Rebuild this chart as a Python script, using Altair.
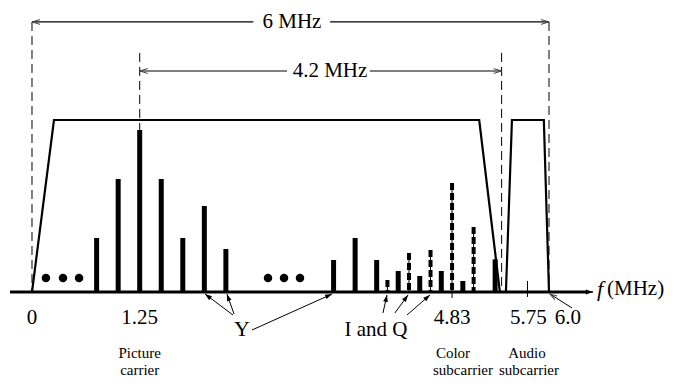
import math
import altair as alt
import pandas as pd

# ---------------- data (frequency in MHz, amplitude relative to passband = 1) -------------
X_DOMAIN = [-0.2785, 7.381]
Y_DOMAIN = [-0.5291, 1.6512]
W, H = 660, 375

# video passband envelope and audio passband
video_f = [0.0, 0.255, 5.19, 5.43]
video_a = [0.0, 1.0, 1.0, 0.0]
audio_f = [5.50, 5.57, 5.94, 6.0]
audio_a = [0.0, 1.0, 1.0, 0.0]

# luminance (Y) spectral lines
lum_f = [0.75, 1.0, 1.25, 1.5, 1.75, 2.0, 2.25, 3.5, 3.75, 4.0, 4.25, 4.5, 4.75, 5.0, 5.375]
lum_h = [0.314, 0.657, 0.942, 0.657, 0.314, 0.5, 0.25, 0.186, 0.314, 0.186, 0.122, 0.093, 0.122, 0.064, 0.19]

# chrominance (I and Q) spectral lines
chr_f = [4.125, 4.375, 4.625, 4.875, 5.125]
chr_h = [0.07, 0.227, 0.244, 0.634, 0.378]

# ellipsis dots
dot_f = [0.162, 0.36, 0.546, 2.739, 2.925, 3.11]
dot_a = [0.081, 0.081, 0.081, 0.081, 0.081, 0.081]

# dashed guide lines
guide_f = [0.0, 1.25, 5.45, 6.0]
guide_top = [1.57, 1.39, 1.39, 1.57]
guide_bot = [0.0, 0.942, 0.0, 0.0]

# dimension lines (6 MHz, 4.2 MHz)
dim_x1 = [0.0, 3.46, 1.25, 3.92]
dim_x2 = [2.57, 6.0, 2.96, 5.45]
dim_y = [1.57, 1.57, 1.285, 1.285]
dimhead_f = [0.0, 6.0, 1.25, 5.45]
dimhead_a = [1.57, 1.57, 1.285, 1.285]
dimhead_dir = [180, 0, 180, 0]

# small tick marks on the frequency axis
tick_f = [4.875, 5.75]
tick_top = [0.0, 0.064]
tick_bot = [-0.035, -0.029]

# frequency axis
axis_f = [-0.255, 6.43]
axis_tip = 6.51

# pointer arrows (Y, I and Q, 6.0)
ptr_x1 = [2.333, 2.345, 2.553, 4.073, 4.212, 4.352, 6.267]
ptr_y1 = [-0.134, -0.128, -0.221, -0.122, -0.122, -0.134, -0.093]
ptr_x2 = [2.008, 2.262, 3.482, 4.12, 4.364, 4.619, 6.012]
ptr_y2 = [-0.012, -0.012, -0.012, -0.017, -0.017, -0.017, -0.012]
ptr_kind = ["filled"] * 6 + ["open"]

# labels
big_text = ["6 MHz", "4.2 MHz", "0", "1.25", "4.83", "5.75", "6.0", "I and Q"]
big_x = [3.017, 3.458, 0.0, 1.25, 4.875, 5.76, 6.22, 3.992]
big_y = [1.57, 1.285, -0.151, -0.151, -0.151, -0.151, -0.151, -0.221]
y_text = ["Y"]
y_x = [2.437]
y_y = [-0.215]
small_text = ["Picture", "carrier", "Color", "subcarrier", "Audio", "subcarrier"]
small_x = [1.25, 1.25, 4.886, 5.002, 5.745, 5.768]
small_y = [-0.352, -0.4555, -0.352, -0.4555, -0.352, -0.4555]
unit_f_x = [6.557]
unit_rest_x = [6.673]
unit_y = [0.02]

# ---------------- chart -------------
FONT = "Liberation Serif"
PX_X = W / (X_DOMAIN[1] - X_DOMAIN[0])
PX_Y = H / (Y_DOMAIN[1] - Y_DOMAIN[0])

xs = alt.Scale(domain=X_DOMAIN, nice=False, zero=False)
ys = alt.Scale(domain=Y_DOMAIN, nice=False, zero=False)
X = lambda f="x": alt.X(f"{f}:Q", scale=xs, axis=None)
Y = lambda f="y": alt.Y(f"{f}:Q", scale=ys, axis=None)

FILLED_HEAD = "M0,0L-1,-0.34L-1,0.34Z"
OPEN_HEAD = "M-1,-0.3L0,0L-1,0.3"

layers = []

# passbands
env = pd.DataFrame({
    "x": video_f + audio_f,
    "y": video_a + audio_a,
    "band": ["video"] * 4 + ["audio"] * 4,
    "i": list(range(4)) * 2,
})
layers.append(alt.Chart(env).mark_line(color="black", strokeWidth=2.2, strokeJoin="miter").encode(
    x=X(), y=Y(), detail="band:N", order="i:Q"))

# dashed guides
g = pd.DataFrame({"x": guide_f, "y": guide_top, "y2": guide_bot})
layers.append(alt.Chart(g).mark_rule(color="black", strokeWidth=1, strokeDash=[9, 5]).encode(
    x=X(), y=Y(), y2="y2:Q"))

# dimension lines
d = pd.DataFrame({"x": dim_x1, "x2": dim_x2, "y": dim_y})
layers.append(alt.Chart(d).mark_rule(color="black", strokeWidth=1.2).encode(x=X(), x2="x2:Q", y=Y()))
dh = pd.DataFrame({"x": dimhead_f, "y": dimhead_a, "ang": dimhead_dir})
layers.append(alt.Chart(dh).mark_point(shape=OPEN_HEAD, size=256, filled=False, color="#444",
                                       strokeWidth=1, opacity=1).encode(
    x=X(), y=Y(), angle=alt.Angle("ang:Q", scale=None)))

# luminance bars
lb = pd.DataFrame({"x": lum_f, "y": [0.0] * len(lum_f), "y2": lum_h})
layers.append(alt.Chart(lb).mark_rule(color="black", strokeWidth=5).encode(x=X(), y=Y(), y2="y2:Q"))

# chrominance bars: thin core + thick dashes
cb = pd.DataFrame({"x": chr_f, "y": [0.0] * len(chr_f), "y2": chr_h})
layers.append(alt.Chart(cb).mark_rule(color="black", strokeWidth=1).encode(x=X(), y=Y(), y2="y2:Q"))
layers.append(alt.Chart(cb).mark_rule(color="black", strokeWidth=4, strokeDash=[7, 3]).encode(
    x=X(), y=Y("y2"), y2="y:Q"))

# ticks
tk = pd.DataFrame({"x": tick_f, "y": tick_top, "y2": tick_bot})
layers.append(alt.Chart(tk).mark_rule(color="black", strokeWidth=1).encode(x=X(), y=Y(), y2="y2:Q"))

# axis
ax = pd.DataFrame({"x": [axis_f[0]], "x2": [axis_f[1]], "y": [0.0]})
layers.append(alt.Chart(ax).mark_rule(color="black", strokeWidth=3).encode(x=X(), x2="x2:Q", y=Y()))
ax2 = pd.DataFrame({"x": [axis_f[1]], "x2": [axis_tip], "y": [0.0]})
layers.append(alt.Chart(ax2).mark_rule(color="black", strokeWidth=1.5).encode(x=X(), x2="x2:Q", y=Y()))
axh = pd.DataFrame({"x": [axis_tip], "y": [0.0]})
layers.append(alt.Chart(axh).mark_point(shape=FILLED_HEAD, size=200, filled=True, color="black",
                                        opacity=1).encode(x=X(), y=Y()))

# dots
dt = pd.DataFrame({"x": dot_f, "y": dot_a})
layers.append(alt.Chart(dt).mark_point(shape="circle", size=72, filled=True, color="black",
                                       opacity=1).encode(x=X(), y=Y()))

# pointer arrows
angs = []
for a, b, c, e in zip(ptr_x1, ptr_y1, ptr_x2, ptr_y2):
    dx = (c - a) * PX_X
    dy = -(e - b) * PX_Y
    angs.append(math.degrees(math.atan2(dy, dx)) % 360)
pa = pd.DataFrame({"x": ptr_x1, "y": ptr_y1, "x2": ptr_x2, "y2": ptr_y2, "ang": angs, "kind": ptr_kind})
layers.append(alt.Chart(pa).mark_rule(color="black", strokeWidth=1).encode(
    x=X(), y=Y(), x2="x2:Q", y2="y2:Q"))
layers.append(alt.Chart(pa[pa.kind == "filled"]).mark_point(
    shape=FILLED_HEAD, size=196, filled=True, color="black", opacity=1).encode(
    x=X("x2"), y=Y("y2"), angle=alt.Angle("ang:Q", scale=None)))
layers.append(alt.Chart(pa[pa.kind == "open"]).mark_point(
    shape=OPEN_HEAD, size=196, filled=False, color="#444", strokeWidth=1, opacity=1).encode(
    x=X("x2"), y=Y("y2"), angle=alt.Angle("ang:Q", scale=None)))

# text
bt = pd.DataFrame({"t": big_text, "x": big_x, "y": big_y})
layers.append(alt.Chart(bt).mark_text(font=FONT, fontSize=21, color="black", align="center",
                                      baseline="middle").encode(x=X(), y=Y(), text="t:N"))
yt = pd.DataFrame({"t": y_text, "x": y_x, "y": y_y})
layers.append(alt.Chart(yt).mark_text(font=FONT, fontSize=22, color="black", align="center",
                                      baseline="middle").encode(x=X(), y=Y(), text="t:N"))
st = pd.DataFrame({"t": small_text, "x": small_x, "y": small_y})
layers.append(alt.Chart(st).mark_text(font=FONT, fontSize=15, color="black", align="center",
                                      baseline="middle").encode(x=X(), y=Y(), text="t:N"))
uf = pd.DataFrame({"t": ["f"], "x": unit_f_x, "y": unit_y})
layers.append(alt.Chart(uf).mark_text(font=FONT, fontSize=22, fontStyle="italic", color="black",
                                      align="left", baseline="middle").encode(x=X(), y=Y(), text="t:N"))
ur = pd.DataFrame({"t": ["(MHz)"], "x": unit_rest_x, "y": unit_y})
layers.append(alt.Chart(ur).mark_text(font=FONT, fontSize=21, color="black",
                                      align="left", baseline="middle").encode(x=X(), y=Y(), text="t:N"))

chart = alt.layer(*layers).properties(
    width=W, height=H, padding=0, autosize="none", background="white"
).configure_view(stroke=None)

chart.save("out.html", embed_options={"renderer": "svg", "actions": False})
